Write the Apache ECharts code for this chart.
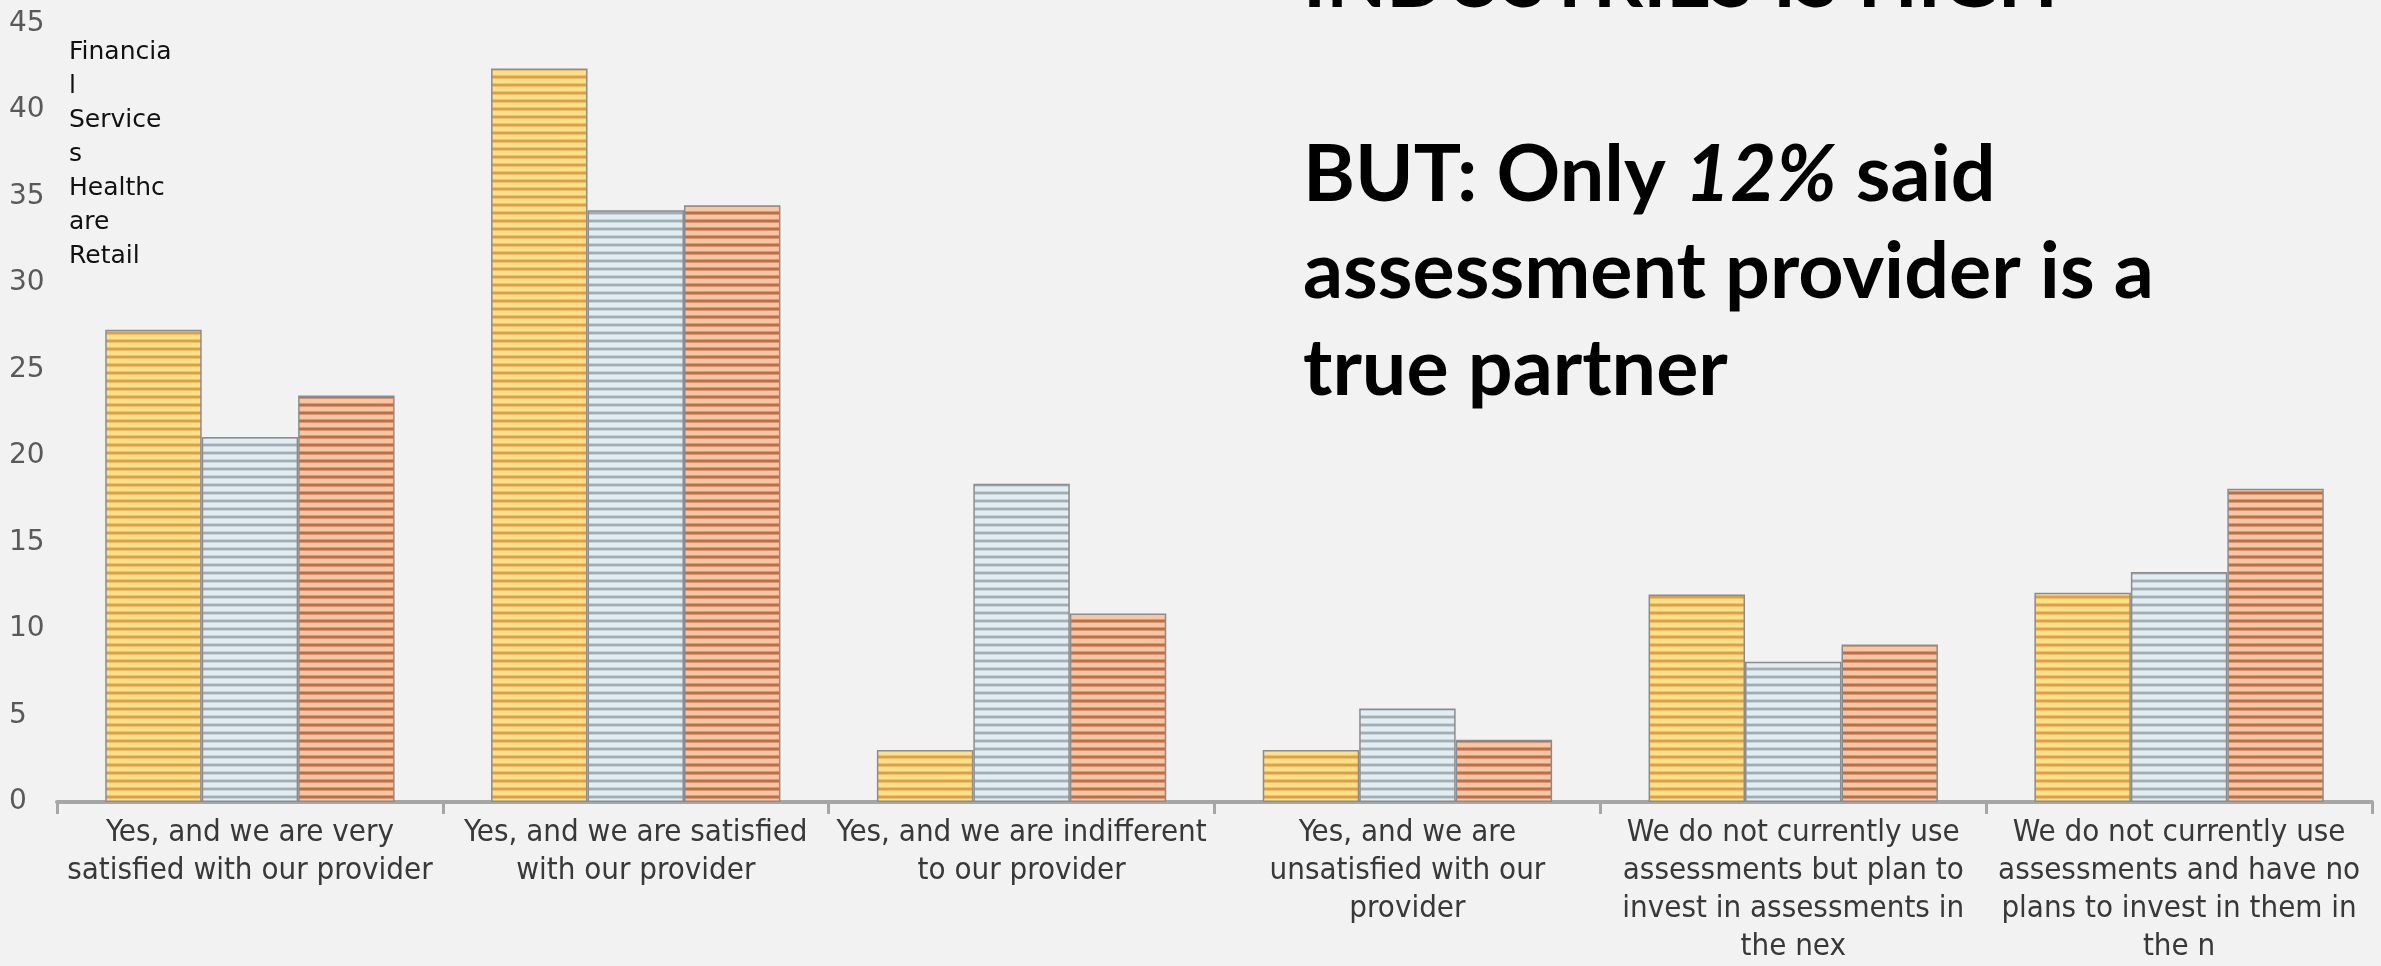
<!DOCTYPE html>
<html>
<head>
<meta charset="utf-8">
<script src="https://cdn.jsdelivr.net/npm/echarts@6/dist/echarts.min.js"></script>
<style>
  html, body { margin: 0; padding: 0; background: #f2f2f2; }
  #chart { width: 2381px; height: 966px; }
</style>
</head>
<body>
<div id="chart"></div>
<script>
// Survey answers, one category per answer (line breaks as printed under the axis)
const categories = [
  'Yes, and we are very\nsatisfied with our provider',
  'Yes, and we are satisfied\nwith our provider',
  'Yes, and we are indifferent\nto our provider',
  'Yes, and we are\nunsatisfied with our\nprovider',
  'We do not currently use\nassessments but plan to\ninvest in assessments in\nthe nex',
  'We do not currently use\nassessments and have no\nplans to invest in them in\nthe n'
];

// Share of respondents per industry
const financialServices = [27.3, 42.4, 3.0, 3.0, 12.0, 12.1];
const healthcare        = [21.1, 34.2, 18.4, 5.4, 8.1, 13.3];
const retail            = [23.5, 34.5, 10.9, 3.6, 9.1, 18.1];

const seriesNames = ['Financial Services', 'Healthcare', 'Retail'];
const legendText = ['Financia\nl\nService\ns', 'Healthc\nare', 'Retail'];

const yMin = 0, yMax = 45, yStep = 5;

const headline = 'INDUSTRIES IS HIGH';
const callout = 'BUT: Only {i|12%} said\nassessment provider is a\ntrue partner';

// Horizontal-stripe fill used for each bar colour
function stripes(light, mid, dark) {
  const c = document.createElement('canvas');
  c.width = 8; c.height = 8;
  const ctx = c.getContext('2d');
  const rows = [light, light, light, mid, dark, dark, mid, light];
  rows.forEach((col, i) => { ctx.fillStyle = col; ctx.fillRect(0, i, 8, 1); });
  return { image: c, repeat: 'repeat' };
}

const fills = [
  stripes('#fde08c', '#f0c062', '#d99f4a'),
  stripes('#e2edf4', '#c7d2d9', '#a3adb4'),
  stripes('#f8c6a2', '#dc9670', '#b77049')
];
const seriesData = [financialServices, healthcare, retail];

const chart = echarts.init(document.getElementById('chart'), null, { renderer: 'canvas' });

const titleFont = 'Lato';
chart.setOption({
  backgroundColor: '#f2f2f2',
  animation: false,
  title: [
    {
      text: headline,
      left: 1303, top: -67,
      padding: 0,
      textStyle: { fontFamily: titleFont, fontWeight: 'bold', fontSize: 78, lineHeight: 97, color: '#000' }
    },
    {
      text: callout,
      left: 1303, top: 127,
      padding: 0,
      textStyle: {
        fontFamily: titleFont, fontWeight: 'bold', fontSize: 79, lineHeight: 97, color: '#000',
        rich: {
          i: { fontFamily: titleFont, fontWeight: 'bold', fontStyle: 'italic', fontSize: 79, lineHeight: 97, color: '#000' }
        }
      }
    }
  ],
  legend: {
    data: seriesNames,
    orient: 'vertical',
    left: 63, top: 35,
    padding: 0,
    itemGap: 0,
    itemWidth: 0, itemHeight: 0,
    formatter: name => legendText[seriesNames.indexOf(name)],
    textStyle: { fontFamily: 'DejaVu Sans', fontSize: 25, lineHeight: 34, color: '#111' }
  },
  grid: { left: 57, right: 9, top: 23.5, bottom: 155, containLabel: false },
  xAxis: {
    type: 'category',
    data: categories,
    axisLine: { lineStyle: { color: '#a6a6a6', width: 4 } },
    axisTick: { show: true, length: 12, lineStyle: { color: '#a6a6a6', width: 3 } },
    axisLabel: {
      interval: 0, margin: 12,
      fontFamily: 'DejaVu Sans Condensed', fontSize: 31, lineHeight: 38, color: '#383838',
      align: 'center'
    }
  },
  yAxis: {
    type: 'value',
    min: yMin, max: yMax, interval: yStep,
    axisLine: { show: false },
    axisTick: { show: false },
    splitLine: { show: false },
    axisLabel: {
      align: 'left', margin: 48,
      fontFamily: 'DejaVu Sans', fontSize: 28, color: '#595959'
    }
  },
  series: seriesNames.map((name, i) => ({
    name,
    type: 'bar',
    data: seriesData[i],
    barGap: '0%',
    barCategoryGap: '25%',
    itemStyle: { color: fills[i], borderColor: '#8c8c8c', borderWidth: 1.5 }
  }))
});
</script>
</body>
</html>
